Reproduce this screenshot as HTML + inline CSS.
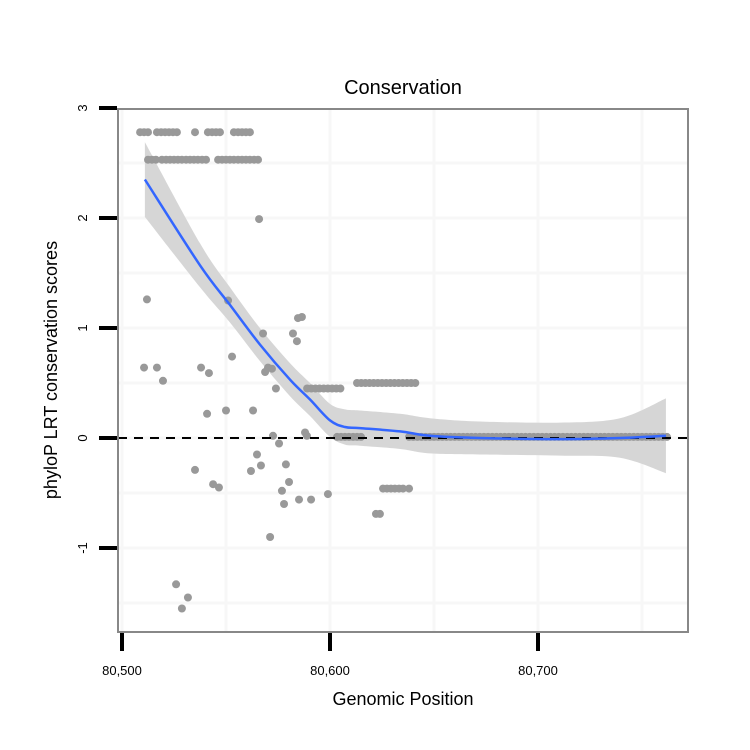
<!DOCTYPE html>
<html><head><meta charset="utf-8"><style>
html,body{margin:0;padding:0;background:#fff;}
svg{display:block;font-family:"Liberation Sans",sans-serif;}
</style></head><body>
<svg id="chart" width="750" height="750" viewBox="0 0 750 750">
<rect x="0" y="0" width="750" height="750" fill="#fff"/>
<g id="grid"></g>
<g id="band"></g>
<g id="points"></g>
<g id="smooth"></g>
<g id="axes"></g>
<text x="403" y="94" text-anchor="middle" font-size="20">Conservation</text>
<text x="403" y="705" text-anchor="middle" font-size="18">Genomic Position</text>
<text transform="translate(57,370) rotate(-90)" text-anchor="middle" font-size="18">phyloP LRT conservation scores</text>
</svg>
<script>
// offsets from 80500
const topRowX=[8.7,10.6,12.5,16.8,18.8,20.7,22.6,24.5,26.4,35.1,41.3,43.3,45.2,47.1,53.8,55.8,57.7,59.6,61.5];
const topRowY=2.78;
const secondRowX=[12.5,14.4,16.3,19.2,21.2,23.1,25,26.9,28.8,30.8,32.7,34.6,36.5,38.5,40.4,46.2,48.1,50,51.9,53.8,55.8,57.7,59.6,61.5,63.5,65.4];
const secondRowY=2.53;
const zeroRowX=[103.4,105.3,107.2,109.1,111.1,113,114.9,138,140,142,144,146,148,150,152,154,156,158,160,162,164,166,168,170,172,174,176,178,180,182,184,186,188,190,192,194,196,198,200,202,204,206,208,210,212,214,216,218,220,222,224,226,228,230,232,234,236,238,240,242,244,246,248,250,252,254,256,258,260,262];
const zeroRowY=0.01;
const halfRowX=[89,91,93,95,97,99,101,103,105,113,115,117,119,121,123,125,127,129,131,133,135,137,139,141];
const halfRowY=[0.45,0.45,0.45,0.45,0.45,0.45,0.45,0.45,0.45,0.5,0.5,0.5,0.5,0.5,0.5,0.5,0.5,0.5,0.5,0.5,0.5,0.5,0.5,0.5];
const scatterX=[12,51,86.5,84.6,82.2,84.1,67.8,10.6,16.8,19.7,38,41.8,52.9,70.2,68.8,72.1,74,40.9,50,63,72.6,75.5,88,88.9,64.9,66.8,62,78.8,80.3,76.9,35.1,43.8,46.6,77.9,85.1,90.9,99,71.2,26,31.7,28.8,65.9,125.5,127.4,129.3,131.2,133.2,135.1,138,122.1,124];
const scatterY=[1.26,1.25,1.10,1.09,0.95,0.88,0.95,0.64,0.64,0.52,0.64,0.59,0.74,0.64,0.6,0.63,0.45,0.22,0.25,0.25,0.02,-0.05,0.05,0.02,-0.15,-0.25,-0.3,-0.24,-0.4,-0.48,-0.29,-0.42,-0.45,-0.6,-0.56,-0.56,-0.51,-0.9,-1.33,-1.45,-1.55,1.99,-0.46,-0.46,-0.46,-0.46,-0.46,-0.46,-0.46,-0.69,-0.69];
const smoothX=[11,37.5,51.9,66.3,80.8,90.4,100,107.2,114.4,133.7,148,172,210.6,239.4,261.5];
const smoothY=[2.35,1.57,1.21,0.85,0.53,0.35,0.16,0.10,0.09,0.06,0.02,0,-0.01,0,0.02];
const smoothSE=[0.34,0.2,0.16,0.15,0.15,0.15,0.15,0.16,0.16,0.16,0.16,0.15,0.15,0.18,0.34];
const xTicks=[0,100,200];
const xTickLabels=["80,500","80,600","80,700"];
const yTicks=[3,2,1,0,-1];
const yTickLabels=["3","2","1","0","-1"];

const NS="http://www.w3.org/2000/svg";
function sx(v){return 122+v*2.08;}
function sy(v){return 438-v*110;}
function mk(tag,attrs,parent){const e=document.createElementNS(NS,tag);for(const k in attrs)e.setAttribute(k,attrs[k]);parent.appendChild(e);return e;}
function spline(P,start){let d=(start?'M':'L')+P[0][0]+','+P[0][1];
 for(let i=0;i<P.length-1;i++){const p0=P[i-1]||P[i],p1=P[i],p2=P[i+1],p3=P[i+2]||P[i+1];
 d+=' C'+(p1[0]+(p2[0]-p0[0])/6)+','+(p1[1]+(p2[1]-p0[1])/6)+' '+(p2[0]-(p3[0]-p1[0])/6)+','+(p2[1]-(p3[1]-p1[1])/6)+' '+p2[0]+','+p2[1];}
 return d;}
const grid=document.getElementById('grid'),band=document.getElementById('band'),pts=document.getElementById('points'),sm=document.getElementById('smooth'),ax=document.getElementById('axes');
const L=118,R=688,T=109,B=632;
[-50,0,50,100,150,200,250].forEach(v=>{const x=sx(v);if(x>L&&x<R){
 const g=mk('line',{x1:x,x2:x,y1:T,y2:B,stroke:'#f7f7f7','stroke-width':3},grid);
 
 }});
[3,2.5,2,1.5,1,0.5,0,-0.5,-1,-1.5].forEach(v=>{const y=sy(v);if(y>T&&y<B){
 const g=mk('line',{x1:L,x2:R,y1:y,y2:y,stroke:'#f7f7f7','stroke-width':3},grid);
 
 }});
const UP=smoothX.map((x,i)=>[sx(x),sy(smoothY[i]+smoothSE[i])]);
const LO=smoothX.map((x,i)=>[sx(x),sy(smoothY[i]-smoothSE[i])]).reverse();
const bp=mk('path',{d:spline(UP,true)+' '+spline(LO,false)+' Z',fill:'#d6d6d6'},band);


function dot(x,y){const c=mk('circle',{cx:sx(x),cy:sy(y),r:4,fill:'#999'},pts);
 
 }
topRowX.forEach(x=>dot(x,topRowY));
secondRowX.forEach(x=>dot(x,secondRowY));
zeroRowX.forEach(x=>dot(x,zeroRowY));
halfRowX.forEach((x,i)=>dot(x,halfRowY[i]));
scatterX.forEach((x,i)=>dot(x,scatterY[i]));
const zl=mk('line',{x1:L,x2:R,y1:sy(0),y2:sy(0),stroke:'#000','stroke-width':2,'stroke-dasharray':'9,7'},sm);


const P=smoothX.map((x,i)=>[sx(x),sy(smoothY[i])]);
const sl=mk('path',{d:spline(P,true),fill:'none',stroke:'#3366FF','stroke-width':2.5},sm);


const fr=mk('rect',{x:L,y:T,width:R-L,height:B-T,fill:'none',stroke:'#888','stroke-width':2},ax);


xTicks.forEach((v,i)=>{const x=sx(v);
 const t=mk('line',{x1:x,x2:x,y1:B+1,y2:B+19,stroke:'#000','stroke-width':4},ax);
 
 
 const tx=mk('text',{x:x,y:675,'text-anchor':'middle','font-size':13},ax);tx.textContent=xTickLabels[i];
 
 });
yTicks.forEach((v,i)=>{const y=sy(v);
 const t=mk('line',{x1:99,x2:117,y1:y,y2:y,stroke:'#000','stroke-width':4},ax);
 
 
 const tx=mk('text',{transform:'translate(87,'+y+') rotate(-90)','text-anchor':'middle','font-size':13},ax);tx.textContent=yTickLabels[i];
 
 });
</script>
</body></html>
